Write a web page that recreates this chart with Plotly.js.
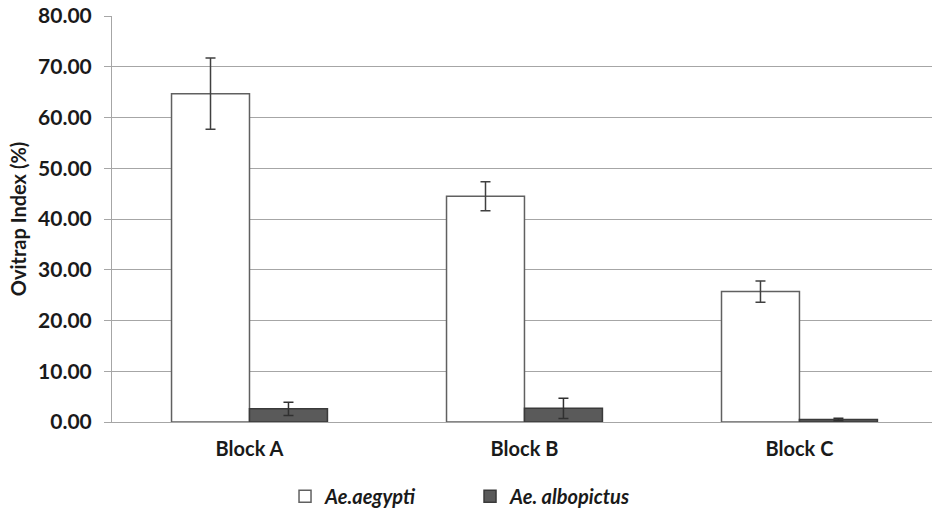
<!DOCTYPE html>
<html>
<head>
<meta charset="utf-8">
<script src="https://cdn.plot.ly/plotly-3.0.1.min.js"></script>
<style>html,body{margin:0;padding:0;background:#fff;}#chart{width:933px;height:514px;}</style>
</head>
<body>
<div id="chart"></div>
<script>
var categories = ["Block A", "Block B", "Block C"];
var aegyptiValues = [64.7, 44.5, 25.7];
var aegyptiErrors = [7.0, 2.85, 2.1];
var albopictusValues = [2.6, 2.7, 0.5];
var albopictusErrors = [1.3, 2.0, 0.25];
var seriesNames = ["<i>Ae.aegypti</i>", "<i>Ae. albopictus</i>"];

var traces = [
  {
    type: "bar", x: categories, y: aegyptiValues, name: seriesNames[0],
    marker: {color: "#ffffff", line: {color: "#606060", width: 1.5}},
    error_y: {type: "data", array: aegyptiErrors, visible: true, color: "#404040", thickness: 1.5, width: 5}
  },
  {
    type: "bar", x: categories, y: albopictusValues, name: seriesNames[1],
    marker: {color: "#5a5a5a", line: {color: "#3a3a3a", width: 1.5}},
    error_y: {type: "data", array: albopictusErrors, visible: true, color: "#303030", thickness: 1.5, width: 5}
  }
];

var layout = {
  width: 933, height: 514,
  margin: {l: 112, r: 1, t: 16, b: 92, autoexpand: false},
  paper_bgcolor: "#ffffff", plot_bgcolor: "#ffffff",
  barmode: "group", bargap: 0.433, bargroupgap: 0,
  font: {family: "Lato, 'Open Sans', sans-serif", color: "#1a1a1a"},
  xaxis: {
    type: "category", range: [-0.5, 2.482], automargin: false,
    showline: true, linecolor: "#a6a6a6", linewidth: 1,
    showgrid: false, ticks: "", ticklabelstandoff: 9,
    tickfont: {size: 20, weight: "bold", color: "#1a1a1a"}
  },
  yaxis: {
    range: [0, 80], dtick: 10, tickformat: ".2f", automargin: false,
    showline: true, linecolor: "#a6a6a6", linewidth: 1,
    showgrid: true, gridcolor: "#a6a6a6", gridwidth: 1,
    zeroline: false,
    ticks: "outside", ticklen: 7, tickcolor: "#a6a6a6",
    ticklabelstandoff: 8,
    tickfont: {size: 21, weight: "bold", color: "#1a1a1a"},
    title: {text: "Ovitrap Index (%)", font: {size: 20, weight: "bold", color: "#1a1a1a"}, standoff: 6}
  },
  showlegend: true,
  legend: {
    orientation: "h", x: 0.211, xanchor: "left", y: -0.135, yanchor: "top",
    bgcolor: "rgba(0,0,0,0)",
    font: {size: 20, weight: "bold", color: "#1a1a1a"},
    entrywidth: 140, itemwidth: 30, traceorder: "normal"
  }
};

Plotly.newPlot("chart", traces, layout, {displayModeBar: false, staticPlot: true});
</script>
</body>
</html>
